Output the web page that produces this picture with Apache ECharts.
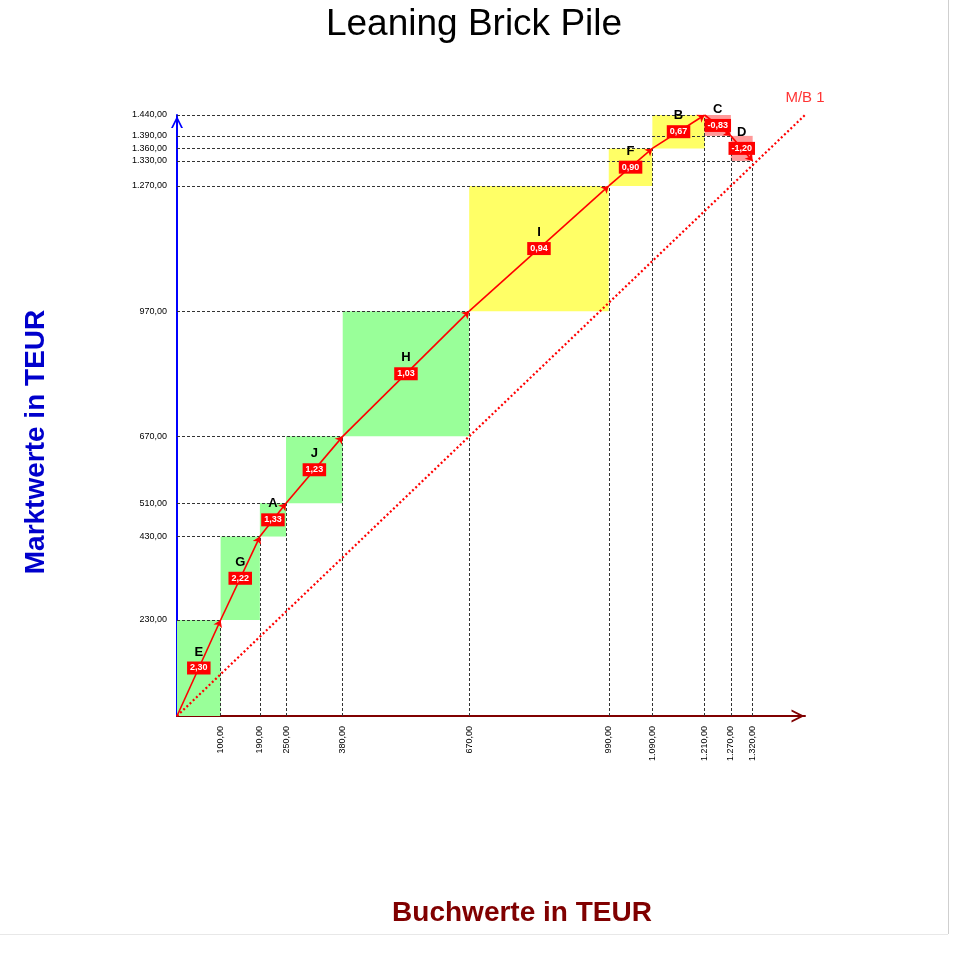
<!DOCTYPE html>
<html><head><meta charset="utf-8">
<script src="https://cdn.jsdelivr.net/npm/echarts@6/dist/echarts.min.js"></script>
<style>html,body{margin:0;padding:0;background:#fff}#c{width:969px;height:962px}</style>
</head><body><div id="c"></div>
<script>
// Bricks in order, cumulative book values (x) and market values (y) at each brick end
const brickNames = ['E','G','A','J','H','I','F','B','C','D'];
const bookValues = [100,190,250,380,670,990,1090,1210,1270,1320];
const marketValues = [230,430,510,670,970,1270,1360,1440,1390,1330];
const xTickValues = [100,190,250,380,670,990,1090,1210,1270,1320];
const yTickValues = [230,430,510,670,970,1270,1330,1360,1390,1440];
const axisMax = 1440;

function deFmt(v){
  const s = v.toFixed(2).split('.');
  return s[0].replace(/\B(?=(\d{3})+(?!\d))/g,'.') + ',' + s[1];
}
const FONT = '"Liberation Sans", Arial, Helvetica, sans-serif';

const bricks = brickNames.map((n,i)=>[
  i ? bookValues[i-1] : 0, i ? marketValues[i-1] : 0, bookValues[i], marketValues[i], n
]);
const guideLines = [];
bookValues.forEach((x,i)=>{
  guideLines.push({coords:[[0,marketValues[i]],[x,marketValues[i]]]});
  guideLines.push({coords:[[x,0],[x,marketValues[i]]]});
});
const pathSegs = bricks.map(b=>({coords:[[b[0],b[1]],[b[2],b[3]]]}));

const chevron = 'path://M0,10 L5,0 L10,10 L8.4,10 L5,3.2 L1.6,10 Z';

const chart = echarts.init(document.getElementById('c'), null, {renderer:'canvas'});
chart.setOption({
  animation:false,
  backgroundColor:'#fff',
  grid:{left:177,right:164,top:115,bottom:246,containLabel:false},
  xAxis:{type:'value',min:0,max:axisMax,
    splitLine:{show:false},axisTick:{show:false},
    axisLine:{show:true,lineStyle:{color:'#800000',width:2},symbol:['none',chevron],symbolSize:[13,14],symbolOffset:[0,-7]},
    axisLabel:{customValues:xTickValues,rotate:90,fontSize:9,color:'#000',margin:10,fontFamily:FONT,formatter:v=>deFmt(v)}
  },
  yAxis:{type:'value',min:0,max:axisMax,
    splitLine:{show:false},axisTick:{show:false},
    axisLine:{show:true,lineStyle:{color:'#0000FF',width:2},symbol:['none',chevron],symbolSize:[12,14],symbolOffset:[0,-7]},
    axisLabel:{customValues:yTickValues,fontSize:9,color:'#000',margin:10,fontFamily:FONT,formatter:v=>deFmt(v)}
  },
  graphic:[
    {type:'text',x:474,y:25,style:{text:'Leaning Brick Pile',font:'37px '+FONT,fill:'#000',align:'center',verticalAlign:'middle'}},
    {type:'text',x:36,y:442,rotation:Math.PI/2,style:{text:'Marktwerte in TEUR',font:'bold 28px '+FONT,fill:'#0000CC',align:'center',verticalAlign:'middle'}},
    {type:'text',x:522,y:913,style:{text:'Buchwerte in TEUR',font:'bold 28px '+FONT,fill:'#800000',align:'center',verticalAlign:'middle'}},
    {type:'line',shape:{x1:948.5,y1:0,x2:948.5,y2:934},style:{stroke:'#cfcfcf',lineWidth:1}},
    {type:'line',shape:{x1:0,y1:934.5,x2:948,y2:934.5},style:{stroke:'#e8e8e8',lineWidth:1}}
  ],
  series:[
    {type:'custom',z:1,data:bricks,
      renderItem:function(params,api){
        const x0=api.value(0),y0=api.value(1),x1=api.value(2),y1=api.value(3);
        const p0=api.coord([x0,y0]),p1=api.coord([x1,y1]);
        const r=(y1-y0)/(x1-x0);
        const fill=r<0?'#FF9999':(r<1?'#FFFF66':'#99FF99');
        return {type:'rect',shape:{x:Math.min(p0[0],p1[0]),y:Math.min(p0[1],p1[1]),width:Math.abs(p1[0]-p0[0]),height:Math.abs(p1[1]-p0[1])},style:{fill:fill}};
      }},
    {type:'lines',coordinateSystem:'cartesian2d',z:2,data:guideLines,symbol:['none','none'],
      lineStyle:{color:'#333',width:1,type:[3,2],opacity:1}},
    {type:'line',z:3,data:[[0,0],[axisMax,axisMax]],showSymbol:false,symbol:'none',
      lineStyle:{color:'#FF0000',width:2.2,type:[2,2.4],cap:'butt'}},
    {type:'scatter',z:3,data:[[axisMax,axisMax]],symbolSize:1,itemStyle:{color:'rgba(0,0,0,0)'},
      label:{show:true,position:'top',distance:9,formatter:'M/B 1',color:'#FF0000',fontSize:15,fontFamily:FONT}},
    {type:'lines',coordinateSystem:'cartesian2d',z:4,data:pathSegs,symbol:['none','arrow'],symbolSize:7,
      lineStyle:{color:'#FF0000',width:1.6,opacity:1}},
    {type:'custom',z:5,data:bricks,
      renderItem:function(params,api){
        const x0=api.value(0),y0=api.value(1),x1=api.value(2),y1=api.value(3);
        const c=api.coord([(x0+x1)/2,(y0+y1)/2]);
        const r=(y1-y0)/(x1-x0);
        return {type:'group',children:[
          {type:'text',x:c[0],y:c[1]-16,style:{text:api.value(4),font:'bold 13px '+FONT,fill:'#000',align:'center',verticalAlign:'middle'}},
          {type:'text',x:c[0],y:c[1],style:{text:r.toFixed(2).replace('.',','),font:'bold 9px '+FONT,fill:'#fff',align:'center',verticalAlign:'middle',backgroundColor:'#FF0000',padding:[2,3,2,3]}}
        ]};
      }}
  ]
});
</script></body></html>
